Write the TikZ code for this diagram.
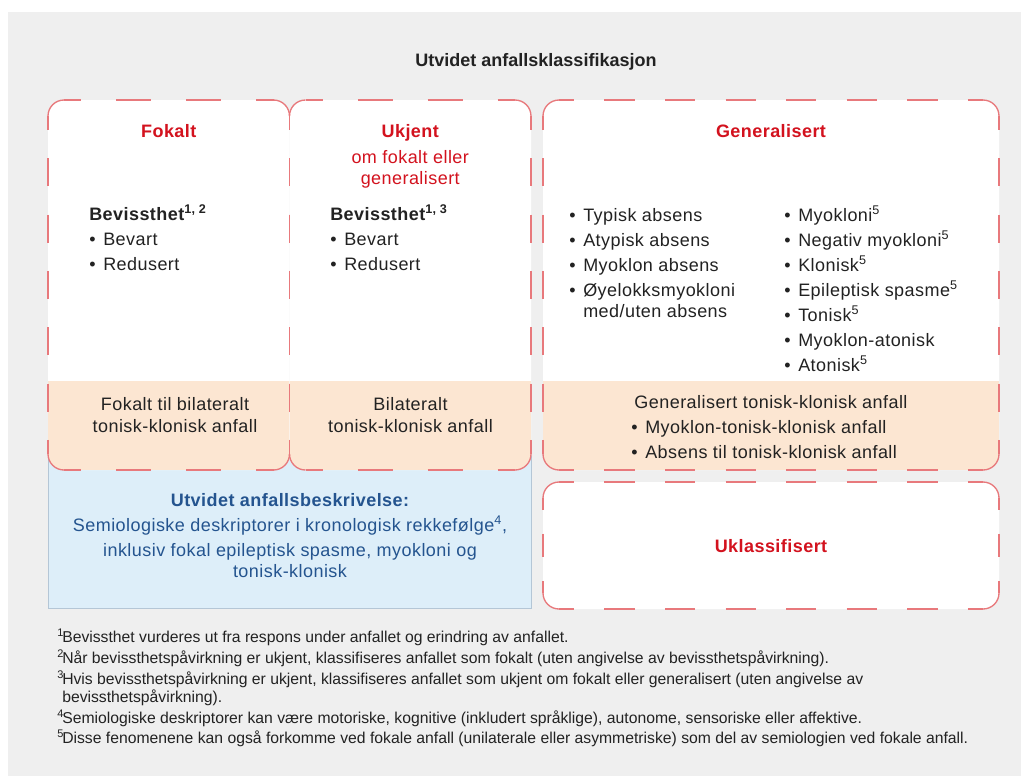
\documentclass[tikz,border=0pt]{standalone}
\usepackage{fontspec}
\setmainfont{Liberation Sans}[LetterSpace=2.5]
\newfontfamily\plainfont{Liberation Sans}
\definecolor{bgc}{HTML}{EFEFEF}
\definecolor{redc}{HTML}{E8797C}
\definecolor{redtxt}{HTML}{D3121E}
\definecolor{peach}{HTML}{FCE6D2}
\definecolor{bluefill}{HTML}{DDEEF9}
\definecolor{blueline}{HTML}{B4C6D6}
\definecolor{bluetxt}{HTML}{24548F}
\definecolor{ink}{HTML}{222222}
\newcommand\sideDash[5]{%
  \pgfmathsetmacro\sdN{max(1,round((#5)/60))}%
  \pgfmathsetmacro\sdH{(#5)/\sdN*0.375}%
  \pgfmathsetmacro\sdQ{\sdH/2}%
  \draw[redborder,dash pattern=on \sdH pt off \sdH pt,dash phase=\sdQ pt] (#1,#2) -- (#3,#4);%
}
\newcommand\dashBox[4]{%
  \draw[redborder,rounded corners=12pt] (#1,#2+16) -- (#1,#2) -- (#1+16,#2);
  \draw[redborder,rounded corners=12pt] (#3-16,#2) -- (#3,#2) -- (#3,#2+16);
  \draw[redborder,rounded corners=12pt] (#3,#4-16) -- (#3,#4) -- (#3-16,#4);
  \draw[redborder,rounded corners=12pt] (#1+16,#4) -- (#1,#4) -- (#1,#4-16);
  \pgfmathsetmacro\dbW{#3-#1-32}%
  \pgfmathsetmacro\dbH{#4-#2-32}%
  \sideDash{#1+16}{#2}{#3-16}{#2}{\dbW}
  \sideDash{#1+16}{#4}{#3-16}{#4}{\dbW}
  \sideDash{#1}{#2+16}{#1}{#4-16}{\dbH}
  \sideDash{#3}{#2+16}{#3}{#4-16}{\dbH}
}
\newcommand\fillBox[5]{%
  \fill[white,rounded corners=12pt] (#1,#2) rectangle (#3,#4);
  \begin{scope}
    \clip[rounded corners=12pt] (#1,#2) rectangle (#3,#4);
    \fill[peach] (#1,#5) rectangle (#3,#4);
  \end{scope}
}
\newcommand\bul{\makebox[10.5pt][l]{•}}
\newcommand\fnm[1]{\makebox[3.75pt][l]{\textsuperscript{#1}}}
\begin{document}
\begin{tikzpicture}[x=0.75pt,y=-0.75pt,
  redborder/.style={draw=redc,line width=1pt},
  body/.style={font=\fontsize{13.5}{16}\selectfont,text=ink,inner sep=0pt},
  bodyc/.style={body,anchor=base},
  bodyl/.style={body,anchor=base west},
  boldl/.style={bodyl,font=\fontsize{13.5}{16}\selectfont\bfseries},
  head/.style={font=\fontsize{13.5}{16}\selectfont\bfseries,text=redtxt,inner sep=0pt,anchor=base},
  redsub/.style={font=\fontsize{13.5}{16}\selectfont,text=redtxt,inner sep=0pt,anchor=base},
  bluehead/.style={font=\fontsize{13.5}{16}\selectfont\bfseries,text=bluetxt,inner sep=0pt,anchor=base},
  bluebody/.style={font=\fontsize{13.5}{16}\selectfont,text=bluetxt,inner sep=0pt,anchor=base},
  titlest/.style={font=\plainfont\fontsize{13.5}{16}\selectfont\bfseries,text=ink,inner sep=0pt,anchor=base},
  fn/.style={font=\plainfont\fontsize{11.8}{14}\selectfont,text=ink,inner sep=0pt,anchor=base west}]
\useasboundingbox (0,0) rectangle (1021,776);
\fill[bgc] (8,12) rectangle (1021,776);
% blue description box
\draw[fill=bluefill,draw=blueline,line width=0.6pt] (48,456) rectangle (531.5,608);
% fills
\fillBox{48}{100}{289.5}{470}{381}
\fillBox{289.5}{100}{531}{470}{381}
\fillBox{543}{100}{999}{470}{381}
\fill[white,rounded corners=12pt] (543,482) rectangle (999,609);
% borders
\dashBox{48}{100}{289.5}{470}
\dashBox{289.5}{100}{531}{470}
\dashBox{543}{100}{999}{470}
\dashBox{543}{482}{999}{609}
% title
\node[titlest] (title) at (536,66) {Utvidet anfallsklassifikasjon};
% Fokalt
\node[head] (fokalt) at (168.75,137) {Fokalt};
\node[boldl] (bev1) at (89,220) {Bevissthet\textsuperscript{1, 2}};
\node[bodyl] (f1) at (89,245) {\bul Bevart};
\node[bodyl] (f2) at (89,270) {\bul Redusert};
% Ukjent
\node[head] (ukjent) at (410.25,137) {Ukjent};
\node[redsub] (ukjent2) at (410.25,163) {om fokalt eller};
\node[redsub] (ukjent3) at (410.25,184) {generalisert};
\node[boldl] (bev2) at (330,220) {Bevissthet\textsuperscript{1, 3}};
\node[bodyl] (u1) at (330,245) {\bul Bevart};
\node[bodyl] (u2) at (330,270) {\bul Redusert};
% Generalisert
\node[head] (gen) at (771,137) {Generalisert};
\node[bodyl] (g1) at (569,221) {\bul Typisk absens};
\node[bodyl] (g2) at (569,246) {\bul Atypisk absens};
\node[bodyl] (g3) at (569,271) {\bul Myoklon absens};
\node[bodyl] (g4) at (569,296) {\bul Øyelokksmyokloni};
\node[bodyl] (g4b) at (583,317) {med/uten absens};
\node[bodyl] (h1) at (784,221) {\bul Myokloni\textsuperscript{5}};
\node[bodyl] (h2) at (784,246) {\bul Negativ myokloni\textsuperscript{5}};
\node[bodyl] (h3) at (784,271) {\bul Klonisk\textsuperscript{5}};
\node[bodyl] (h4) at (784,296) {\bul Epileptisk spasme\textsuperscript{5}};
\node[bodyl] (h5) at (784,321) {\bul Tonisk\textsuperscript{5}};
\node[bodyl] (h6) at (784,346) {\bul Myoklon-atonisk};
\node[bodyl] (h7) at (784,371) {\bul Atonisk\textsuperscript{5}};
% peach band texts
\node[bodyc] (p1) at (175,410) {Fokalt til bilateralt};
\node[bodyc] (p1b) at (175,432) {tonisk-klonisk anfall};
\node[bodyc] (p2) at (410.5,410) {Bilateralt};
\node[bodyc] (p2b) at (410.5,432) {tonisk-klonisk anfall};
\node[bodyc] (p3) at (771,408) {Generalisert tonisk-klonisk anfall};
\node[bodyl] (p3a) at (631,433) {\bul Myoklon-tonisk-klonisk anfall};
\node[bodyl] (p3b) at (631,458) {\bul Absens til tonisk-klonisk anfall};
% blue box texts
\node[bluehead] (b1) at (290,506) {Utvidet anfallsbeskrivelse:};
\node[bluebody] (b2) at (290,531) {Semiologiske deskriptorer i kronologisk rekkefølge\textsuperscript{4},};
\node[bluebody] (b3) at (290,556) {inklusiv fokal epileptisk spasme, myokloni og};
\node[bluebody] (b4) at (290,577) {tonisk-klonisk};
% Uklassifisert
\node[head] (ukl) at (771,552) {Uklassifisert};
% footnotes
\node[fn] (n1) at (57,642) {\fnm{1}Bevissthet vurderes ut fra respons under anfallet og erindring av anfallet.};
\node[fn] (n2) at (57,663) {\fnm{2}Når bevissthetspåvirkning er ukjent, klassifiseres anfallet som fokalt (uten angivelse av bevissthetspåvirkning).};
\node[fn] (n3) at (57,684) {\fnm{3}Hvis bevissthetspåvirkning er ukjent, klassifiseres anfallet som ukjent om fokalt eller generalisert (uten angivelse av};
\node[fn] (n3b) at (62,702) {bevissthetspåvirkning).};
\node[fn] (n4) at (57,723) {\fnm{4}Semiologiske deskriptorer kan være motoriske, kognitive (inkludert språklige), autonome, sensoriske eller affektive.};
\node[fn] (n5) at (57,743) {\fnm{5}Disse fenomenene kan også forkomme ved fokale anfall (unilaterale eller asymmetriske) som del av semiologien ved fokale anfall.};
\end{tikzpicture}
\end{document}
